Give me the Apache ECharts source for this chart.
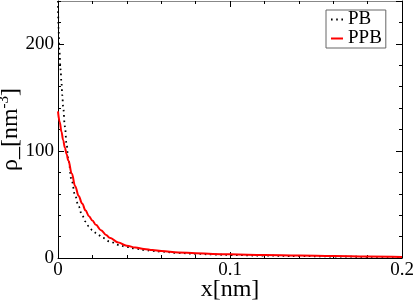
<!DOCTYPE html>
<html>
<head>
<meta charset="utf-8">
<script src="https://cdn.jsdelivr.net/npm/echarts@6/dist/echarts.min.js"></script>
<style>
html,body{margin:0;padding:0;background:#fff;}
#chart{width:415px;height:300px;}
</style>
</head>
<body>
<div id="chart"></div>
<script>
// Data
const seriesNames = ['PB', 'PPB'];
const xPB = [0, 0.0003, 0.0008, 0.0015, 0.002, 0.0025, 0.003, 0.004, 0.005, 0.006, 0.008, 0.010, 0.012, 0.014, 0.016, 0.018, 0.020, 0.023, 0.026, 0.030, 0.035, 0.040, 0.045, 0.050, 0.055, 0.060, 0.070, 0.080, 0.090, 0.100, 0.120, 0.140, 0.160, 0.180, 0.200];
const yPB = [240, 215, 193, 176, 164, 152, 141, 123, 106, 92, 72, 58, 48, 40, 34, 29.5, 26, 22, 18.8, 15.5, 12.3, 10.3, 8.8, 7.6, 6.6, 5.9, 4.7, 3.9, 3.3, 2.8, 2.2, 1.8, 1.4, 1.1, 0.9];
const xPPB = [0, 0.001, 0.002, 0.003, 0.004, 0.005, 0.006, 0.008, 0.010, 0.012, 0.014, 0.016, 0.018, 0.020, 0.022, 0.025, 0.028, 0.030, 0.035, 0.040, 0.045, 0.050, 0.055, 0.060, 0.070, 0.080, 0.090, 0.100, 0.120, 0.140, 0.160, 0.180, 0.200];
const yPPB = [137, 127, 118, 110, 103, 97, 91, 79, 67, 58, 51, 44.5, 39, 35, 31, 26, 21.5, 19, 14.5, 11.5, 9.8, 8.5, 7.4, 6.5, 5.2, 4.4, 3.8, 3.4, 2.8, 2.3, 1.8, 1.4, 1.0];
const xTickLabels = ['0', '0.1', '0.2'];
const yTickLabels = ['0', '100', '200'];
const xAxisTitle = 'x[nm]';
const yAxisTitle = ['ρ_[nm', '-3', ']'];

const FONT = "'Liberation Serif', 'Times New Roman', serif";
const pairs = (xs, ys) => xs.map((x, i) => [x, ys[i]]);

const chart = echarts.init(document.getElementById('chart'), null, {renderer: 'canvas'});

const GRID = {left: 58, right: 13, top: 1, bottom: 42, outerBoundsMode: 'none', containLabel: false};

const baseX = {
  type: 'value', min: 0, max: 0.2, interval: 0.1, gridIndex: 0,
  axisLine: {show: true, onZero: false, lineStyle: {color: '#000', width: 1}},
  axisTick: {show: true, inside: true, length: 6, lineStyle: {color: '#000'}},
  minorTick: {show: true, splitNumber: 5, length: 3, lineStyle: {color: '#000'}},
  splitLine: {show: false},
  minorSplitLine: {show: false}
};
const baseY = {
  type: 'value', min: 0, max: 240,
  axisLine: {show: true, onZero: false, lineStyle: {color: '#000', width: 1}},
  axisTick: {show: true, inside: true, lineStyle: {color: '#000'}},
  splitLine: {show: false}
};

const option = {
  animation: false,
  backgroundColor: '#fff',
  grid: [Object.assign({}, GRID), Object.assign({}, GRID)],
  legend: {
    data: seriesNames,
    orient: 'vertical',
    left: 326, top: 10,
    padding: [0, 4, 0, 4],
    itemWidth: 12, itemHeight: 10, itemGap: 0, itemTextGap: 5,
    borderColor: '#666', borderWidth: 1,
    itemStyle: {opacity: 0},
    textStyle: {fontFamily: FONT, fontSize: 19, color: '#000', lineHeight: 18}
  },
  xAxis: [
    Object.assign({}, baseX, {
      position: 'bottom',
      axisLabel: {show: true, margin: 3, fontFamily: FONT, fontSize: 19, color: '#000',
        formatter: (v) => { const i = Math.round(v / 0.1); return Math.abs(v - i * 0.1) < 1e-9 ? xTickLabels[i] : ''; }},
      name: xAxisTitle, nameLocation: 'middle', nameGap: 20, nameMoveOverlap: false,
      nameTextStyle: {fontFamily: FONT, fontSize: 24, color: '#000'}
    }),
    Object.assign({}, baseX, {
      position: 'top',
      axisLine: {show: true, onZero: false, lineStyle: {color: '#888', width: 1}},
      axisLabel: {show: false}
    }),
    {type: 'value', min: 0, max: 0.2, gridIndex: 1, show: false}
  ],
  yAxis: [
    Object.assign({}, baseY, {
      gridIndex: 0, position: 'left', interval: 100,
      axisTick: {show: true, inside: true, length: 6, lineStyle: {color: '#000'}},
      axisLabel: {show: true, margin: 4, fontFamily: FONT, fontSize: 19, color: '#000', showMaxLabel: false,
        formatter: (v) => { const i = Math.round(v / 100); return Math.abs(v - i * 100) < 1e-9 && i < yTickLabels.length ? yTickLabels[i] : ''; }},
      name: '{a|' + yAxisTitle[0] + '}{s|' + yAxisTitle[1] + '}{a|' + yAxisTitle[2] + '}',
      nameLocation: 'middle', nameGap: 35, nameRotate: 90, nameMoveOverlap: false,
      nameTextStyle: {fontFamily: FONT, fontSize: 24, color: '#000',
        rich: {
          a: {fontFamily: FONT, fontSize: 24, color: '#000', lineHeight: 26, verticalAlign: 'bottom'},
          s: {fontFamily: FONT, fontSize: 15, color: '#000', lineHeight: 26, verticalAlign: 'top', padding: [0, 0, 8, 0]}
        }}
    }),
    Object.assign({}, baseY, {
      gridIndex: 0, position: 'right', interval: 100,
      axisTick: {show: true, inside: true, length: 6, lineStyle: {color: '#000'}},
      axisLabel: {show: false}
    }),
    Object.assign({}, baseY, {
      gridIndex: 1, position: 'left', interval: 20,
      axisLine: {show: false},
      axisTick: {show: true, inside: true, length: 3, lineStyle: {color: '#000'}},
      axisLabel: {show: false}
    }),
    Object.assign({}, baseY, {
      gridIndex: 1, position: 'right', interval: 20,
      axisLine: {show: false},
      axisTick: {show: true, inside: true, length: 3, lineStyle: {color: '#000'}},
      axisLabel: {show: false}
    })
  ],
  series: [
    {
      name: seriesNames[0], type: 'line', xAxisIndex: 0, yAxisIndex: 0,
      data: pairs(xPB, yPB),
      symbol: 'none', smooth: 0.4, smoothMonotone: 'x', clip: true,
      lineStyle: {color: '#000', width: 1.8, type: [1.6, 3.6], cap: 'butt'},
      itemStyle: {color: '#000'},
      z: 2
    },
    {
      name: seriesNames[1], type: 'line', xAxisIndex: 0, yAxisIndex: 0,
      data: pairs(xPPB, yPPB),
      symbol: 'none', smooth: 0.4, smoothMonotone: 'x', clip: true,
      lineStyle: {color: '#ff0000', width: 2},
      itemStyle: {color: '#ff0000'},
      z: 3
    }
  ]
};
chart.setOption(option);
</script>
</body>
</html>
